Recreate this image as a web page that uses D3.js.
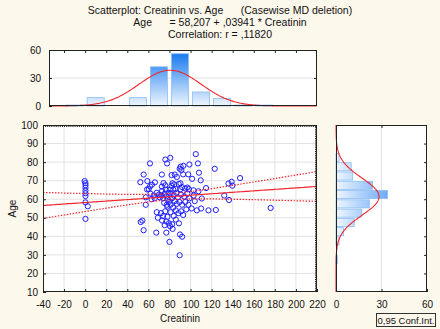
<!DOCTYPE html>
<html>
<head>
<meta charset="utf-8">
<script src="https://cdn.jsdelivr.net/npm/d3@7"></script>
<style>
  body { margin: 0; background: #fdf8ec; }
  text { font-family: "Liberation Sans", Arial, sans-serif; fill: #111; }
</style>
</head>
<body>
<svg id="chart" width="440" height="329"></svg>
<script>
// Scatterplot Creatinin vs Age with marginal histograms (Statistica style)

const titleLines = [
    'Scatterplot: Creatinin vs. Age      (Casewise MD deletion)',
    'Age      = 58,207 + ,03941 * Creatinin',
    'Correlation: r = ,11820'
];
const regression = [58.207, 0.03941]; // intercept, slope

// scatter points
const creatinin = [
    -0.5, 0.3, 0.3, 0.3, 0.3, 0.3, 0.3, 0.3, 0.3, 2.5,
    52.4, 55.5, 59, 58.7, 57.5, 57.5, 52.7, 54.3, 55.5,
    105, 107, 108, 109.7, 101.5, 110.7, 110, 106, 101, 107.5, 102.8, 114.7, 117, 104, 103,
    123, 124, 132, 136.5, 136, 139, 139.7, 147, 176,
    61.5, 76.1, 77.7, 72.8, 61.5, 63.4, 66.2, 60.3, 74.4, 76.0, 72.8, 76.6, 62, 65, 68, 70, 71,
    72.5, 74, 75.5, 77, 78.5, 79, 73, 66, 63, 75, 77.5, 79.5, 78, 68, 69, 72, 74, 76, 78, 77,
    75.5, 79.5, 67.5, 77, 73,
    80.8, 90.6, 89.7, 91.3, 93.2, 98.9, 85, 87, 93, 97.8, 82, 82.9, 84.5, 82, 88.8, 90.4, 80.4,
    83.6, 85.8, 90.4, 96.9, 98.4, 95, 92, 81, 84, 86.5, 88, 91, 94, 97, 99, 82.5, 85, 87, 89.5,
    92, 95, 98, 81, 83.5, 86, 88.5, 91, 93, 96, 84, 81, 86, 89, 82.5, 80.5, 90, 92, 80, 83, 89.7
];
const age = [
    69.8, 68.7, 67.6, 66.2, 64.6, 63.2, 61.7, 58.3, 49.4, 56.2,
    69.2, 73.3, 69.8, 65.3, 61, 57, 47.7, 48.5, 43.3,
    84.3, 79.3, 74.3, 70.2, 71, 60.4, 55, 54, 55, 64.3, 64.8, 66, 54, 59, 62,
    76.4, 54.2, 62, 59.6, 68.5, 69.4, 67.3, 71.4, 55.3,
    79.3, 81.4, 79.3, 73.3, 66.9, 67.8, 69.1, 65.5, 68.7, 67.5, 66.8, 65.2, 63, 62, 63.5, 62.5, 61,
    62, 60.5, 63, 61.5, 60, 63.5, 64.5, 60.5, 60, 58, 57, 58.5, 56, 53, 50, 52.5, 51, 53.5, 50.5, 48,
    46, 47, 42, 42, 48.5,
    82.3, 77.5, 76.4, 75.7, 78, 78.7, 73.3, 72, 73.4, 73.4, 73, 68.6, 68, 67.3, 68.2, 68.6, 65.2,
    65.2, 65.4, 65.4, 66.3, 65.5, 65.8, 66.5, 63, 62, 63.5, 61, 62.5, 61.5, 63, 60.5, 60.5, 59, 57.5, 58.5,
    57, 58.5, 57, 57, 55.5, 54, 52.5, 53.5, 51.5, 54.5, 51, 53, 49, 47, 46.5, 45.5, 41, 39.8, 37, 44, 29.8
];

// marginal histograms
const creatBinStarts = [-20, 0, 20, 40, 60, 80, 100, 120, 140, 160];
const creatCounts = [1, 9, 0, 9, 42, 56, 15, 8, 1, 1];
const ageBinStarts = [25, 30, 35, 40, 45, 50, 55, 60, 65, 70, 75, 80];
const ageCounts = [1, 0, 2, 5, 12, 17, 22, 34, 24, 11, 10, 2];

const xTicks = [-40, -20, 0, 20, 40, 60, 80, 100, 120, 140, 160, 180, 200, 220];
const yTicks = [10, 20, 30, 40, 50, 60, 70, 80, 90, 100];
const countTicks = [0, 30, 60];

const svg = d3.select('#chart');
const gridColor = '#e2e2e2';
const red = '#f2262c';
const blue = '#1f1fff';
const plain = d => String(d).replace('\u2212', '-');

// layout
const main = { left: 43, right: 317, top: 125, bottom: 292 };
const topH = { left: 49, right: 317, top: 50, bottom: 106 };
const side = { left: 336, right: 427, top: 125, bottom: 292 };

const x = d3.scaleLinear().domain([-40, 220]).range([main.left, main.right]);
const y = d3.scaleLinear().domain([10, 100]).range([main.bottom, main.top]);
const yTop = d3.scaleLinear().domain([0, 60]).range([topH.bottom, topH.top]);
const xSide = d3.scaleLinear().domain([0, 60]).range([side.left, side.right]);
const xTopMin = x.invert(topH.left);

// gradients
const defs = svg.append('defs');
const gTop = defs.append('linearGradient').attr('id', 'gradTop')
    .attr('gradientUnits', 'userSpaceOnUse')
    .attr('x1', 0).attr('x2', 0).attr('y1', yTop(60)).attr('y2', yTop(0));
gTop.append('stop').attr('offset', '0%').attr('stop-color', '#0a72ee');
gTop.append('stop').attr('offset', '100%').attr('stop-color', '#eef6ff');
const gSide = defs.append('linearGradient').attr('id', 'gradSide')
    .attr('gradientUnits', 'userSpaceOnUse')
    .attr('y1', 0).attr('y2', 0).attr('x1', xSide(0)).attr('x2', xSide(60));
gSide.append('stop').attr('offset', '0%').attr('stop-color', '#eef6ff');
gSide.append('stop').attr('offset', '100%').attr('stop-color', '#0a72ee');

// title
svg.selectAll('.title')
    .data(titleLines)
    .enter().append('text')
    .attr('class', 'title')
    .attr('x', 220)
    .attr('y', (d, i) => 14 + i * 12)
    .attr('text-anchor', 'middle')
    .attr('font-size', '10.5px')
    .style('white-space', 'pre')
    .text(d => d);

// stats
const n = creatinin.length;
const mx = d3.mean(creatinin), sx = d3.deviation(creatinin);
const my = d3.mean(age), sy = d3.deviation(age);
const sxx = d3.sum(creatinin, v => (v - mx) * (v - mx));
const pred = v => regression[0] + regression[1] * v;
const sRes = Math.sqrt(d3.sum(creatinin, (v, i) => (age[i] - pred(v)) ** 2) / (n - 2));
const tCrit = 1.977;
const halfWidth = v => tCrit * sRes * Math.sqrt(1 / n + (v - mx) ** 2 / sxx);
const normal = (v, m, s, binW) => n * binW / (s * Math.sqrt(2 * Math.PI)) * Math.exp(-((v - m) ** 2) / (2 * s * s));

function box(b) {
    svg.append('rect')
        .attr('x', b.left).attr('y', b.top)
        .attr('width', b.right - b.left).attr('height', b.bottom - b.top)
        .attr('fill', '#fff');
}
function frame(b) {
    svg.append('rect')
        .attr('x', b.left + 0.5).attr('y', b.top + 0.5)
        .attr('width', b.right - b.left - 1).attr('height', b.bottom - b.top - 1)
        .attr('fill', 'none').attr('stroke', '#222').attr('stroke-width', 1);
}
function styleAxis(g) {
    g.select('.domain').remove();
    g.selectAll('.tick line').attr('stroke', '#222');
    g.selectAll('.tick text').attr('font-size', '10px').attr('fill', '#111')
        .attr('font-family', '"Liberation Sans", Arial, sans-serif');
}

// ---------- top histogram ----------
box(topH);
svg.append('line')
    .attr('x1', topH.left).attr('x2', topH.right)
    .attr('y1', yTop(30)).attr('y2', yTop(30))
    .attr('stroke', gridColor);

svg.append('g').selectAll('rect')
    .data(creatBinStarts)
    .enter().append('rect')
    .attr('x', d => x(d) + 2)
    .attr('width', d => x(d + 20) - x(d) - 4)
    .attr('y', (d, i) => yTop(creatCounts[i]))
    .attr('height', (d, i) => yTop(0) - yTop(creatCounts[i]))
    .attr('fill', 'url(#gradTop)')
    .attr('stroke', '#8dbdf2')
    .attr('stroke-width', 0.8);

const topCurve = d3.range(xTopMin, 220.01, 1).map(v => [v, normal(v, mx, sx, 20)]);
svg.append('path')
    .datum(topCurve)
    .attr('fill', 'none').attr('stroke', red).attr('stroke-width', 1.1)
    .attr('d', d3.line().x(d => x(d[0])).y(d => yTop(d[1])));

frame(topH);
svg.append('g')
    .attr('transform', `translate(${topH.left},0)`)
    .call(d3.axisLeft(yTop).tickValues(countTicks).tickSize(-3).tickPadding(8).tickFormat(plain))
    .call(styleAxis);
svg.append('g')
    .attr('transform', `translate(0,${topH.top})`)
    .call(d3.axisTop(x).tickValues(xTicks.filter(t => t > xTopMin && t < 220)).tickSize(-3).tickFormat(''))
    .call(styleAxis);
svg.append('g')
    .attr('transform', `translate(${topH.right},0)`)
    .call(d3.axisRight(yTop).tickValues([30]).tickSize(-3).tickFormat(''))
    .call(styleAxis);

// ---------- scatterplot ----------
box(main);
svg.append('g').selectAll('line')
    .data(xTicks.slice(1, -1))
    .enter().append('line')
    .attr('x1', d => x(d)).attr('x2', d => x(d))
    .attr('y1', main.top).attr('y2', main.bottom)
    .attr('stroke', gridColor);
svg.append('g').selectAll('line')
    .data(yTicks.slice(1, -1))
    .enter().append('line')
    .attr('y1', d => y(d)).attr('y2', d => y(d))
    .attr('x1', main.left).attr('x2', main.right)
    .attr('stroke', gridColor);

svg.append('g').selectAll('circle')
    .data(creatinin)
    .enter().append('circle')
    .attr('cx', d => x(d))
    .attr('cy', (d, i) => y(age[i]))
    .attr('r', 2.6)
    .attr('fill', 'none')
    .attr('stroke', blue)
    .attr('stroke-width', 1);

const xs = d3.range(-40, 220.01, 2);
svg.append('path')
    .datum(xs)
    .attr('fill', 'none').attr('stroke', red).attr('stroke-width', 1.2)
    .attr('d', d3.line().x(d => x(d)).y(d => y(pred(d))));
[1, -1].forEach(sign => {
    svg.append('path')
        .datum(xs)
        .attr('fill', 'none').attr('stroke', red).attr('stroke-width', 1.2)
        .attr('stroke-dasharray', '1.5,1.5')
        .attr('d', d3.line().x(d => x(d)).y(d => y(pred(d) + sign * halfWidth(d))));
});

frame(main);
svg.append('g')
    .attr('transform', `translate(${main.left},0)`)
    .call(d3.axisLeft(y).tickValues(yTicks).tickSize(-3).tickPadding(5).tickFormat(plain))
    .call(styleAxis);
svg.append('g')
    .attr('transform', `translate(0,${main.bottom})`)
    .call(d3.axisBottom(x).tickValues(xTicks).tickSize(-3).tickPadding(9).tickFormat(plain))
    .call(styleAxis);
svg.append('g')
    .attr('transform', `translate(0,${main.top})`)
    .call(d3.axisTop(x).tickValues(d3.range(-38, 220, 2)).tickSize(-2).tickFormat(''))
    .call(styleAxis);
svg.append('g')
    .attr('transform', `translate(${main.right},0)`)
    .call(d3.axisRight(y).tickValues(d3.range(11, 100, 1)).tickSize(-2).tickFormat(''))
    .call(styleAxis);

svg.append('text')
    .attr('transform', `translate(16,${(main.top + main.bottom) / 2}) rotate(-90)`)
    .attr('text-anchor', 'middle')
    .attr('font-size', '10px')
    .text('Age');
svg.append('text')
    .attr('x', (main.left + main.right) / 2)
    .attr('y', 322)
    .attr('text-anchor', 'middle')
    .attr('font-size', '10px')
    .text('Creatinin');

// ---------- side histogram ----------
box(side);
svg.append('line')
    .attr('x1', xSide(30)).attr('x2', xSide(30))
    .attr('y1', side.top).attr('y2', side.bottom)
    .attr('stroke', gridColor);

svg.append('g').selectAll('rect')
    .data(ageBinStarts)
    .enter().append('rect')
    .attr('x', xSide(0))
    .attr('width', (d, i) => xSide(ageCounts[i]) - xSide(0))
    .attr('y', d => y(d + 5) + 0.6)
    .attr('height', d => y(d) - y(d + 5) - 1.2)
    .attr('fill', 'url(#gradSide)')
    .attr('stroke', '#8dbdf2')
    .attr('stroke-width', 0.8);

const sideCurve = d3.range(10, 100.01, 0.5).map(v => [v, normal(v, my, sy, 5)]);
svg.append('path')
    .datum(sideCurve)
    .attr('fill', 'none').attr('stroke', red).attr('stroke-width', 1.1)
    .attr('d', d3.line().x(d => xSide(d[1])).y(d => y(d[0])));

frame(side);
svg.append('g')
    .attr('transform', `translate(0,${side.bottom})`)
    .call(d3.axisBottom(xSide).tickValues(countTicks).tickSize(-3).tickPadding(9).tickFormat(plain))
    .call(styleAxis);
svg.append('g')
    .attr('transform', `translate(0,${side.top})`)
    .call(d3.axisTop(xSide).tickValues([30]).tickSize(-3).tickFormat(''))
    .call(styleAxis);
svg.append('g')
    .attr('transform', `translate(${side.right},0)`)
    .call(d3.axisRight(y).tickValues(yTicks.slice(1, -1)).tickSize(-3).tickFormat(''))
    .call(styleAxis);

// legend
svg.append('rect')
    .attr('x', 376.5).attr('y', 313.5).attr('width', 59).attr('height', 13)
    .attr('fill', 'none').attr('stroke', '#333');
svg.append('text')
    .attr('x', 406).attr('y', 323.5)
    .attr('text-anchor', 'middle')
    .attr('font-size', '9.5px')
    .text('0,95 Conf.Int.');
</script>
</body>
</html>
